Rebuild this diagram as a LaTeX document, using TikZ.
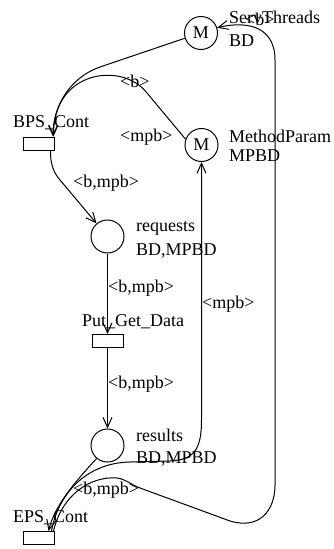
\documentclass[tikz,border=0pt]{standalone}
\usepackage{fontspec}
\setmainfont{Liberation Serif}
\usetikzlibrary{arrows.meta}
\begin{document}
\begin{tikzpicture}[x=1pt,y=-1pt,
  every node/.style={font=\fontsize{18}{20}\selectfont},
  place/.style={draw, circle, minimum size=33pt, inner sep=0pt, line width=1pt},
  trans/.style={draw, rectangle, minimum width=31pt, minimum height=13pt, inner sep=0pt, line width=1pt},
  txt/.style={anchor=base west, inner sep=0pt},
  arc/.style={line width=1pt, -{Straight Barb[length=10pt,width=9pt]}},
]
\useasboundingbox (0,0) rectangle (334,549);
% places
\node[place] (st) at (201,33) {M};
\node[place] (mp) at (201.5,145) {M};
\node[place] (req) at (107.5,236.5) {};
\node[place] (res) at (107.5,445.5) {};
% transitions
\node[trans] (bps) at (38.5,143.5) {};
\node[trans] (pgd) at (107.5,341) {};
\node[trans] (eps) at (38.5,538) {};
% names and colour sets
\node[txt] (stl1) at (229,23) {ServThreads};
\node[txt] (stl2) at (229,46) {BD};
\node[txt] (mpl1) at (229,142) {MethodParam};
\node[txt] (mpl2) at (229,161) {MPBD};
\node[txt] (reql1) at (136,231) {requests};
\node[txt] (reql2) at (136,255) {BD,MPBD};
\node[txt] (resl1) at (136,441) {results};
\node[txt] (resl2) at (136,463) {BD,MPBD};
\node[txt] (bpsl) at (13,127) {BPS\_Cont};
\node[txt] (pgdl) at (82,326) {Put\_Get\_Data};
\node[txt] (epsl) at (13,522) {EPS\_Cont};
% arc labels
\node[txt] (a1) at (245,25) {\textless b\textgreater};
\node[txt] (a2) at (120,87) {\textless b\textgreater};
\node[txt] (a3) at (120,141) {\textless mpb\textgreater};
\node[txt] (a4) at (73,187) {\textless b,mpb\textgreater};
\node[txt] (a5) at (108,292) {\textless b,mpb\textgreater};
\node[txt] (a6) at (202,308) {\textless mpb\textgreater};
\node[txt] (a7) at (108,388) {\textless b,mpb\textgreater};
\node[txt] (a8) at (73,494) {\textless b,mpb\textgreater};
% arcs
\draw[arc] (st.198) -- (100,67) .. controls (71,77) and (53,105) .. ([xshift=-1.5pt]bps.north east);
\draw[arc] (mp.160) -- (147,93) .. controls (122.6,61.4) and (53,70) .. ([xshift=-1pt]bps.north east);
\draw[arc] ([xshift=-4pt]bps.south east) .. controls (50,165) and (54.7,174) .. (60,180) -- (req.130);
\draw[arc] (req) -- (pgd);
\draw[arc] (pgd) -- (res);
\draw[arc] (res.230) .. controls (75,482) and (55,505) .. ([xshift=-6pt]eps.north east);
\draw[arc] ([xshift=-3pt]eps.north east) .. controls (58,495) and (85,463) .. (130,462) -- (170,461) .. controls (195,460) and (201.5,448) .. (201.5,420) -- (mp.south);
\draw[arc] ([xshift=-1pt]eps.north east) .. controls (62,495) and (90,476) .. (117,478) .. controls (125,479) and (130,484) .. (140,488) -- (230,521) .. controls (260,530) and (275,510) .. (275,485) -- (275,60) .. controls (275,22) and (240,22) .. (st.18);
\end{tikzpicture}
\end{document}
